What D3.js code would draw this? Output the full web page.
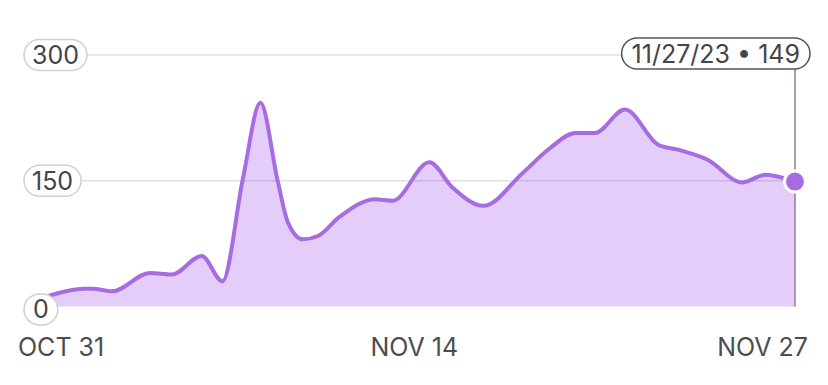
<!DOCTYPE html>
<html>
<head>
<meta charset="utf-8">
<script src="https://cdn.jsdelivr.net/npm/d3@7"></script>
<style>
  html, body { margin: 0; padding: 0; background: #fff; }
  svg { display: block; font-family: Inter, "Noto Sans", sans-serif; }
</style>
</head>
<body>
<svg id="chart" width="828" height="385"></svg>
<script>
// ---- data ----
const times = [
  "2023-10-31T00", "2023-11-01T05", "2023-11-01T13", "2023-11-02T06",
  "2023-11-03T15", "2023-11-04T10", "2023-11-05T12", "2023-11-06T06",
  "2023-11-07T00", "2023-11-07T15", "2023-11-08T06", "2023-11-08T15",
  "2023-11-09T04", "2023-11-09T17", "2023-11-10T12", "2023-11-11T19",
  "2023-11-12T10", "2023-11-13T18", "2023-11-14T14", "2023-11-15T17",
  "2023-11-17T03", "2023-11-18T03", "2023-11-19T01", "2023-11-19T18",
  "2023-11-20T20", "2023-11-22T01", "2023-11-22T18", "2023-11-23T20",
  "2023-11-25T02", "2023-11-25T22", "2023-11-27T00"
];
const values = [
  13, 21, 21, 18,
  40, 38, 60, 30,
  154, 243, 150, 100,
  80, 84, 107, 128,
  126, 172, 142, 120,
  159, 189, 207, 207,
  235, 193, 187, 175,
  148, 157, 149
];
const yTicks = [0, 150, 300];
const xTickDates = ["2023-10-31T00", "2023-11-14T00", "2023-11-27T00"];
const xTickLabels = ["OCT 31", "NOV 14", "NOV 27"];
const tooltipLabel = "11/27/23 • 149";

// ---- render ----
const parse = d3.utcParse("%Y-%m-%dT%H");
const data = times.map((t, i) => ({ t: parse(t), v: values[i] }));

const svg = d3.select("#chart");
const x = d3.scaleUtc()
  .domain([parse(xTickDates[0]), parse(xTickDates[2])])
  .range([50, 795]);
const y = d3.scaleLinear().domain([0, 300]).range([306.4, 55]);

const lineColor = "#a86ce2";
const fillColor = "#e4cef9";
const fontSize = 25;

const area = d3.area().x(d => x(d.t)).y0(y(0)).y1(d => y(d.v)).curve(d3.curveMonotoneX);
const line = d3.line().x(d => x(d.t)).y(d => y(d.v)).curve(d3.curveMonotoneX);

svg.append("path").datum(data).attr("d", area).attr("fill", fillColor);

// gridlines (drawn over the fill, semi-transparent)
const grid = svg.append("g");
yTicks.forEach(v => {
  if (v === 0) return;
  grid.append("line")
    .attr("x1", 80).attr("x2", x.range()[1])
    .attr("y1", y(v)).attr("y2", y(v))
    .attr("stroke", "rgba(0,0,0,0.12)").attr("stroke-width", 1.5);
});

svg.append("path").datum(data).attr("d", line)
  .attr("fill", "none").attr("stroke", lineColor)
  .attr("stroke-width", 4).attr("stroke-linejoin", "round").attr("stroke-linecap", "round");

// vertical cursor line
const last = data[data.length - 1];
svg.append("line")
  .attr("x1", x(last.t)).attr("x2", x(last.t))
  .attr("y1", 66).attr("y2", y(0))
  .attr("stroke", "#8d7e9a").attr("stroke-width", 1.5);

// y pill labels
yTicks.forEach(v => {
  const g = svg.append("g");
  const cy = v === 0 ? y(v) + 3 : y(v);
  const txt = g.append("text")
    .attr("x", 0).attr("y", cy)
    .attr("dy", "0.36em")
    .attr("font-size", fontSize).attr("fill", "#454545")
    .text(v);
  const w = txt.node().getComputedTextLength();
  const padX = v === 0 ? 9 : 8;
  const pw = Math.max(w + padX * 2, 33);
  const px = 24;
  g.insert("rect", "text")
    .attr("x", px).attr("y", cy - 15.5)
    .attr("width", pw).attr("height", 31)
    .attr("rx", 15.5).attr("ry", 15.5)
    .attr("fill", "#fff").attr("stroke", "#d0d0d0").attr("stroke-width", 1.5);
  txt.attr("x", px + pw / 2).attr("text-anchor", "middle");
});

// x labels
const xOffsets = [-32, -22, 13];
const anchors = ["start", "middle", "end"];
xTickDates.forEach((d, i) => {
  svg.append("text")
    .attr("x", x(parse(d)) + xOffsets[i]).attr("y", 356)
    .attr("text-anchor", anchors[i])
    .attr("font-size", fontSize).attr("fill", "#4d4d4d")
    .text(xTickLabels[i]);
});

// tooltip pill
const tg = svg.append("g");
const tt = tg.append("text").attr("y", 54).attr("dy", "0.36em")
  .attr("font-size", fontSize).attr("fill", "#454545").attr("text-anchor", "middle")
  .text(tooltipLabel);
const tw = tt.node().getComputedTextLength();
const tpw = tw + 20;
const tpx = 810 - tpw;
tg.insert("rect", "text")
  .attr("x", tpx).attr("y", 38).attr("width", tpw).attr("height", 31)
  .attr("rx", 15.5).attr("fill", "#fff").attr("stroke", "#555").attr("stroke-width", 1.5);
tt.attr("x", tpx + tpw / 2);

// end dot
svg.append("circle")
  .attr("cx", x(last.t)).attr("cy", y(last.v)).attr("r", 10.5)
  .attr("fill", lineColor).attr("stroke", "#fff").attr("stroke-width", 3);
</script>
</body>
</html>
